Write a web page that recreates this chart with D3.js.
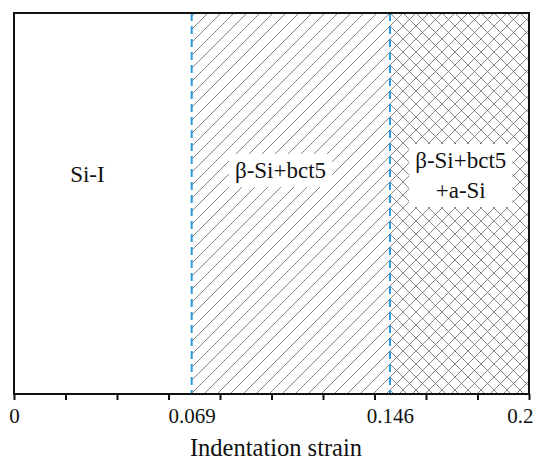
<!DOCTYPE html>
<html>
<head>
<meta charset="utf-8">
<script src="https://cdn.jsdelivr.net/npm/d3@7"></script>
</head>
<body style="margin:0">
<script>
(function() {
  var width = 536,
      height = 461;
  var serif = "Liberation Serif";

  // phase boundaries along the strain axis
  var boundaries = [0, 0.069, 0.146, 0.2];
  var phaseNames = [["Si-I"], ["β-Si+bct5"], ["β-Si+bct5", "+a-Si"]];
  var phaseFill = ["none", "hatch", "cross"];
  var labelAt = [0.0285, 0.1035, 0.1735];
  var tickValues = [0, 0.02, 0.04, 0.06, 0.08, 0.1, 0.12, 0.14, 0.16, 0.18, 0.2];
  var tickLabels = [0, 0.069, 0.146, 0.2];

  var margin = {top: 13, left: 14, right: 7, bottom: 67};

  var svg = d3.select("body")
        .append("svg")
        .attr("width", width)
        .attr("height", height);

  var x = d3.scaleLinear()
    .domain([0, 0.2])
    .range([margin.left, width - margin.right]);

  var top = margin.top,
      bottom = height - margin.bottom;

  var defs = svg.append("defs");

  // single diagonal hatch
  var hatch = defs.append("pattern")
    .attr("id", "hatch")
    .attr("patternUnits", "userSpaceOnUse")
    .attr("width", 13)
    .attr("height", 13);
  hatch.append("path")
    .attr("d", "M-2,2 L2,-2 M0,13 L13,0 M11,15 L15,11")
    .attr("stroke", "#6a6a6a")
    .attr("stroke-width", 0.8);

  // cross hatch
  var cross = defs.append("pattern")
    .attr("id", "cross")
    .attr("patternUnits", "userSpaceOnUse")
    .attr("width", 13)
    .attr("height", 13);
  cross.append("path")
    .attr("d", "M-2,2 L2,-2 M0,13 L13,0 M11,15 L15,11 M-2,11 L2,15 M0,0 L13,13 M11,-2 L15,2")
    .attr("stroke", "#6a6a6a")
    .attr("stroke-width", 0.8);

  var regions = d3.range(phaseNames.length).map(function(i) {
    return {x0: boundaries[i], x1: boundaries[i + 1], fill: phaseFill[i], names: phaseNames[i], at: labelAt[i]};
  });

  svg.selectAll(".region")
    .data(regions.filter(function(d) { return d.fill !== "none"; }))
    .enter().append("rect")
    .attr("class", "region")
    .attr("x", function(d) { return x(d.x0); })
    .attr("y", top)
    .attr("width", function(d) { return x(d.x1) - x(d.x0); })
    .attr("height", bottom - top)
    .attr("fill", function(d) { return "url(#" + d.fill + ")"; });

  // dashed phase boundaries
  svg.selectAll(".boundary")
    .data(boundaries.slice(1, -1))
    .enter().append("line")
    .attr("class", "boundary")
    .attr("x1", function(d) { return x(d); })
    .attr("x2", function(d) { return x(d); })
    .attr("y1", top)
    .attr("y2", bottom)
    .attr("stroke", "#2f9ad8")
    .attr("stroke-width", 2)
    .attr("stroke-dasharray", "8,5");

  // labels with white boxes behind the hatched ones
  var lineH = 30;
  regions.forEach(function(d, i) {
    var g = svg.append("g");
    var n = d.names.length;
    var y0 = n === 1 ? (i === 0 ? 182 : 178) : 168;
    var t = g.append("text")
      .attr("text-anchor", "middle")
      .style("font-family", serif)
      .style("font-size", "23px")
      .attr("fill", "#111");
    d.names.forEach(function(s, j) {
      t.append("tspan")
        .attr("x", x(d.at))
        .attr("y", y0 + j * lineH)
        .text(s);
    });
    if (d.fill !== "none") {
      var bb = t.node().getBBox();
      g.insert("rect", "text")
        .attr("x", bb.x - 6)
        .attr("y", bb.y - 4)
        .attr("width", bb.width + 12)
        .attr("height", bb.height + 8)
        .attr("fill", "#fff");
    }
  });

  // frame
  svg.append("rect")
    .attr("x", x(0))
    .attr("y", top)
    .attr("width", x(0.2) - x(0))
    .attr("height", bottom - top)
    .attr("fill", "none")
    .attr("stroke", "#111")
    .attr("stroke-width", 2);

  // tick marks
  var axis = svg.append("g")
    .attr("transform", "translate(0," + bottom + ")")
    .call(d3.axisBottom(x).tickValues(tickValues).tickSize(6).tickFormat(""));
  axis.select(".domain").remove();
  axis.selectAll(".tick line").attr("stroke", "#111").attr("stroke-width", 2);

  // tick labels at the phase boundaries
  var labels = svg.append("g")
    .attr("transform", "translate(0," + bottom + ")")
    .call(d3.axisBottom(x).tickValues(tickLabels).tickSize(0).tickPadding(0)
      .tickFormat(function(d) { return d === 0 ? "0" : String(d); }));
  labels.select(".domain").remove();
  labels.selectAll(".tick text")
    .style("font-family", serif)
    .style("font-size", "21px")
    .attr("fill", "#111")
    .attr("dy", null)
    .attr("y", 29)
    .attr("text-anchor", function(d) { return d === 0.2 ? "end" : "middle"; })
    .attr("dx", function(d) { return d === 0.2 ? 4 : 0; });

  svg.append("text")
    .attr("x", 276)
    .attr("y", 456)
    .attr("text-anchor", "middle")
    .style("font-family", serif)
    .style("font-size", "24.5px")
    .attr("fill", "#111")
    .text("Indentation strain");
})();
</script>
</body>
</html>
